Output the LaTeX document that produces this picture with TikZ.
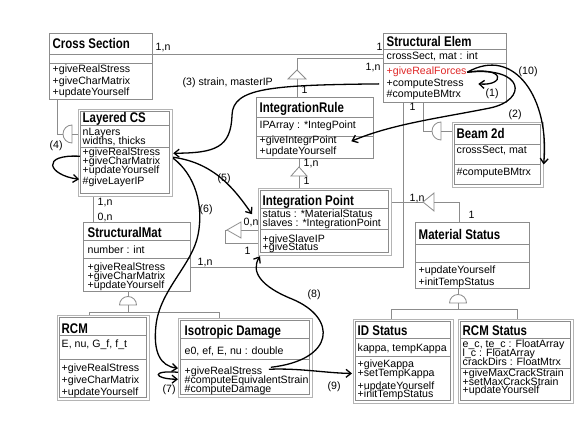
\documentclass[tikz,border=0pt]{standalone}
\usepackage{fontspec}
\setmainfont{Liberation Sans}
\newfontfamily\titlefont{Liberation Sans}[FakeStretch=0.82]
\usetikzlibrary{arrows.meta,calc}
\definecolor{linegray}{HTML}{8C8C8C}
\definecolor{outergray}{HTML}{B4B4B4}
\definecolor{fred}{HTML}{E02828}
\tikzset{
  box/.style={draw=linegray, line width=0.8pt},
  obox/.style={draw=outergray, line width=1.2pt},
  conn/.style={draw=linegray, line width=0.8pt},
  tri/.style={draw=linegray, line width=0.8pt, fill=white},
  txt/.style={anchor=base west, inner sep=0.5pt, font=\fontsize{10.6}{12}\selectfont},
  ttl/.style={anchor=base west, inner sep=0.5pt, font=\titlefont\bfseries\fontsize{14}{16}\selectfont},
  lbl/.style={txt},
  msg/.style={draw=black, line width=1.3pt, -{Straight Barb[length=5pt,width=8pt,line width=1.3pt]}},
}
\newcommand\umlbox[5]{\node[box, anchor=north west, inner sep=0pt, minimum width={#4-#2}, minimum height={#5-#3}] (#1) at (#2,#3) {};}
\newcommand\umldbox[5]{\node[obox, anchor=north west, inner sep=0pt, minimum width={#4-#2}, minimum height={#5-#3}] (#1) at (#2,#3) {};
  \draw[box] ({#2+2.5},{#3+2.5}) rectangle ({#4-2.5},{#5-2.5});}
\newcommand\umlsep[3]{\draw[box] (#1,#3) -- (#2,#3);}
\begin{document}
\begin{tikzpicture}[x=1pt,y=-1pt]
\path[fill=white] (0,0) rectangle (577,446);
\useasboundingbox (0,0) rectangle (577,446);

% ---------- Cross Section
\umlbox{CS}{49}{33}{152}{99}
\umlsep{49}{152}{54}\umlsep{49}{152}{63}
\node[ttl] (CS-t) at (52,49) {Cross Section};
\node[txt] (CS-m1) at (52,73) {+giveRealStress};
\node[txt] (CS-m2) at (52,84.5) {+giveCharMatrix};
\node[txt] (CS-m3) at (52,95.5) {+updateYourself};

% ---------- Structural Elem
\umlbox{SE}{383}{33}{506}{102}
\umlsep{383}{506}{49}\umlsep{383}{506}{63}
\node[ttl] (SE-t) at (386,47) {Structural Elem};
\node[txt] (SE-a1) at (386,60) {crossSect, mat : int};
\node[txt, text=fred] (SE-m1) at (386,75) {+giveRealForces};
\node[txt] (SE-m2) at (386,86.5) {+computeStress};
\node[txt] (SE-m3) at (386,98) {\#computeBMtrx};

% ---------- IntegrationRule
\umlbox{IR}{256}{97}{373}{158}
\umlsep{256}{373}{117}\umlsep{256}{373}{136}
\node[ttl] (IR-t) at (259,113) {IntegrationRule};
\node[txt] (IR-a1) at (259,129) {IPArray : *IntegPoint};
\node[txt] (IR-m1) at (259,144) {+giveIntegrPoint};
\node[txt] (IR-m2) at (259,155) {+updateYourself};

% ---------- Beam 2d
\umldbox{B2}{452}{122}{543}{187}
\umlsep{454.5}{540.5}{144}\umlsep{454.5}{540.5}{164}
\node[ttl] (B2-t) at (456,138.5) {Beam 2d};
\node[txt] (B2-a1) at (456,154) {crossSect, mat};
\node[txt] (B2-m1) at (456,176) {\#computeBMtrx};

% ---------- Layered CS
\umldbox{LCS}{78}{109}{172}{196}
\umlsep{80.5}{169.5}{125}\umlsep{80.5}{169.5}{147}
\node[ttl] (LCS-t) at (82,123) {Layered CS};
\node[txt] (LCS-a1) at (82,136) {nLayers};
\node[txt] (LCS-a2) at (82,144.5) {widths, thicks};
\node[txt] (LCS-m1) at (82,156) {+giveRealStress};
\node[txt] (LCS-m2) at (82,164.7) {+giveCharMatrix};
\node[txt] (LCS-m3) at (82,173.4) {+updateYourself};
\node[txt] (LCS-m4) at (82,185) {\#giveLayerIP};

% ---------- Integration Point
\umldbox{IP}{258}{188}{391}{255}
\umlsep{260.5}{388.5}{208}\umlsep{260.5}{388.5}{229}
\node[ttl] (IP-t) at (262,205) {Integration Point};
\node[txt] (IP-a1) at (262,217) {status : *MaterialStatus};
\node[txt] (IP-a2) at (262,226) {slaves : *IntegrationPoint};
\node[txt] (IP-m1) at (262,242) {+giveSlaveIP};
\node[txt] (IP-m2) at (262,250.5) {+giveStatus};

% ---------- StructuralMat
\umlbox{SM}{83}{222}{190}{291}
\umlsep{83}{190}{240}\umlsep{83}{190}{258}
\node[ttl] (SM-t) at (87,237.5) {StructuralMat};
\node[txt] (SM-a1) at (87,253) {number : int};
\node[txt] (SM-m1) at (87,270.5) {+giveRealStress};
\node[txt] (SM-m2) at (87,279.2) {+giveCharMatrix};
\node[txt] (SM-m3) at (87,288) {+updateYourself};

% ---------- Material Status
\umlbox{MS}{415}{222}{529}{288}
\umlsep{415}{529}{244}\umlsep{415}{529}{262}
\node[ttl] (MS-t) at (418,239) {Material Status};
\node[txt] (MS-m1) at (418,273.5) {+updateYourself};
\node[txt] (MS-m2) at (418,285.5) {+initTempStatus};

% ---------- RCM
\umldbox{RCM}{57}{315}{149}{400}
\umlsep{59.5}{146.5}{335.5}\umlsep{59.5}{146.5}{359}
\node[ttl] (RCM-t) at (61,333) {RCM};
\node[txt] (RCM-a1) at (61,347) {E, nu, G\_f, f\_t};
\node[txt] (RCM-m1) at (61,371) {+giveRealStress};
\node[txt] (RCM-m2) at (61,383) {+giveCharMatrix};
\node[txt] (RCM-m3) at (61,395) {+updateYourself};

% ---------- Isotropic Damage
\umldbox{ID}{178}{318}{312}{397}
\umlsep{180.5}{309.5}{338}\umlsep{180.5}{309.5}{359}
\node[ttl] (ID-t) at (184,335) {Isotropic Damage};
\node[txt] (ID-a1) at (184,354) {e0, ef, E, nu : double};
\node[txt] (ID-m1) at (184,374) {+giveRealStress};
\node[txt] (ID-m2) at (184,383) {\#computeEquivalentStrain};
\node[txt] (ID-m3) at (184,392) {\#computeDamage};

% ---------- ID Status
\umldbox{IDS}{353}{319}{453}{403}
\umlsep{355.5}{450.5}{338}\umlsep{355.5}{450.5}{356}
\node[ttl] (IDS-t) at (357,335) {ID Status};
\node[txt] (IDS-a1) at (357,351) {kappa, tempKappa};
\node[txt] (IDS-m1) at (357,367) {+giveKappa};
\node[txt] (IDS-m2) at (357,376) {+setTempKappa};
\node[txt] (IDS-m3) at (357,389) {+updateYourself};
\node[txt] (IDS-m4) at (357,397.5) {+initTempStatus};

% ---------- RCM Status
\umldbox{RS}{458}{319}{573}{403}
\umlsep{460.5}{570.5}{338}\umlsep{460.5}{570.5}{368}
\node[ttl] (RS-t) at (462,335) {RCM Status};
\node[txt] (RS-a1) at (462,347) {e\_c, te\_c : FloatArray};
\node[txt] (RS-a2) at (462,356) {l\_c : FloatArray};
\node[txt] (RS-a3) at (462,365) {crackDirs : FloatMtrx};
\node[txt] (RS-m1) at (462,376) {+giveMaxCrackStrain};
\node[txt] (RS-m2) at (462,385) {+setMaxCrackStrain};
\node[txt] (RS-m3) at (462,393.5) {+updateYourself};

% ================= gray connectors
\draw[conn] (CS.east |- 0,54) -- (SE.west |- 0,54);
\draw[conn] (IR.north -| 297,0) -- (297,79);
\draw[tri] (288,79) -- (297,70) -- (306,79) -- cycle;
\draw[conn] (297,70) -- (297,58) -- (SE.west |- 0,58);
\draw[conn] (IR.south -| 299,0) -- (299,176);
\draw[tri] (291,176) -- (299,167) -- (307,176) -- cycle;
\draw[conn] (299,167) -- (299,167);
\draw[conn] (299,176) -- (IP.north -| 299,0);
% SE - Beam 2d
\draw[conn] (SE.south -| 423,0) -- (423,131) -- (432,131);
\draw[conn] (441,122) arc[start angle=90, end angle=270, radius=9pt] -- cycle;
\draw[conn] (441,131) -- (B2.west |- 0,131);
% CS - Layered CS
\draw[conn] (CS.south -| 57,0) -- (57,134) -- (63,134);
\draw[conn] (72,125) arc[start angle=90, end angle=270, radius=9pt] -- cycle;
\draw[conn] (72,134) -- (LCS.west |- 0,134);
% StructuralMat - subclasses
\draw[conn] (SM.south -| 128,0) -- (128,296.5);
\draw[conn] (119.5,305) arc[start angle=180, end angle=0, radius=8.5pt] -- cycle;
\draw[conn] (128,305) -- (128,312);
\draw[conn] (RCM.north -| 89,0) -- (89,312) -- (219,312) -- (ID.north -| 219,0);
% Material Status - subclasses
\draw[conn] (MS.south -| 458,0) -- (458,294.5);
\draw[conn] (449.5,303) arc[start angle=180, end angle=0, radius=8.5pt] -- cycle;
\draw[conn] (458,303) -- (458,309);
\draw[conn] (IDS.north -| 391,0) -- (391,309) -- (517,309) -- (RS.north -| 517,0);
% SE - StructuralMat
\draw[conn] (SE.south -| 403,0) -- (403,267) -- (SM.east |- 0,267);
% Layered CS - StructuralMat
\draw[conn] (LCS.south -| 93,0) -- (SM.north -| 93,0);
% IP - Material Status
\draw[conn] (IP.east |- 0,202) -- (423,202);
\draw[tri] (434,193) -- (423,202) -- (434,211) -- cycle;
\draw[conn] (434,202) -- (459,202) -- (MS.north -| 459,0);
% IP self association
\draw[conn] (IP.west |- 0,230) -- (241,230);
\draw[tri] (241,222) -- (227,230) -- (241,238) -- cycle;
\draw[conn] (227,230) -- (225,230) -- (225,243) -- (IP.west |- 0,243);

% multiplicities
\node[lbl] (mu1) at (155,51) {1,n};
\node[lbl] (mu2) at (376,51) {1};
\node[lbl] (mu3) at (365,71) {1,n};
\node[lbl] (mu4) at (301,94) {1};
\node[lbl] (mu5) at (303,167) {1,n};
\node[lbl] (mu6) at (303,185) {1};
\node[lbl] (mu7) at (409,111) {1};
\node[lbl] (mu8) at (197,265) {1,n};
\node[lbl] (mu9) at (97,205) {1,n};
\node[lbl] (mu10) at (97,220) {0,n};
\node[lbl] (mu11) at (243,225) {0,n};
\node[lbl] (mu12) at (244,254) {1};
\node[lbl] (mu13) at (409,201) {1,n};
\node[lbl] (mu14) at (468,218) {1};

% ================= message arrows
% (1)
\draw[msg] (SE-m1.east) .. controls (506,66) and (505,86) .. ($(SE-m2.east)+(14,0)$);
% (10)
\draw[msg] (SE-m1.east) .. controls (515,45) and (550,100) .. ($(B2-m1.east)+(12,-9)$);
% (2)
\draw[msg] (SE-m1.east) .. controls (525,66) and (528,100) .. (490,108) .. controls (440,118) and (392,124) .. ($(IR-m1.east)+(14,0)$);
% (3)
\draw[msg] ($(SE.west |- SE-m2)+(-4,0)$) .. controls (270,85) and (233,88) .. (232,115) .. controls (231,148) and (215,153) .. (LCS.east |- LCS-m1);
% (4)
\draw[msg] ($(LCS.west |- LCS-m1)+(2,3)$) .. controls (40,154) and (48,175) .. ($(LCS-m4.west)+(-3,-3)$);
% (5)
\draw[msg] ($(LCS.east |- LCS-m1)+(0,4)$) .. controls (215,163) and (235,190) .. ($(IP.west |- IP-a1)+(-6,1)$);
% (6)
\draw[msg] ($(LCS.east |- LCS-m1)+(0,5)$) .. controls (195,175) and (204,205) .. (198,235) .. controls (192,265) and (160,290) .. (156,325) .. controls (153,352) and (160,366) .. ($(ID.west |- ID-m1)+(0,-3)$);
% (7)
\draw[msg] ($(ID.west |- ID-m1)+(0,1)$) .. controls (150,370) and (154,379) .. ($(ID.west |- ID-m2)+(0,-1)$);
% (8)
\draw[msg] ($(ID-m1.east)+(8,-4)$) .. controls (335,360) and (338,318) .. (292,299) .. controls (262,287) and (250,272) .. ($(IP.south west)+(2,0)$);
% (9)
\draw[msg] ($(ID-m1.east)+(6,-2)$) .. controls (300,368) and (325,373) .. ($(IDS.west |- IDS-m2)+(-1,0)$);

% message labels
\node[lbl] (ml1) at (485,97) {(1)};
\node[lbl] (ml10) at (518,75) {(10)};
\node[lbl] (ml2) at (508,118) {(2)};
\node[lbl] (ml3) at (182,86) {(3) strain, masterIP};
\node[lbl] (ml4) at (49,149) {(4)};
\node[lbl] (ml5) at (217,182) {(5)};
\node[lbl] (ml6) at (199,212) {(6)};
\node[lbl] (ml7) at (162,392) {(7)};
\node[lbl] (ml8) at (307,297) {(8)};
\node[lbl] (ml9) at (327,389) {(9)};
\end{tikzpicture}
\end{document}
